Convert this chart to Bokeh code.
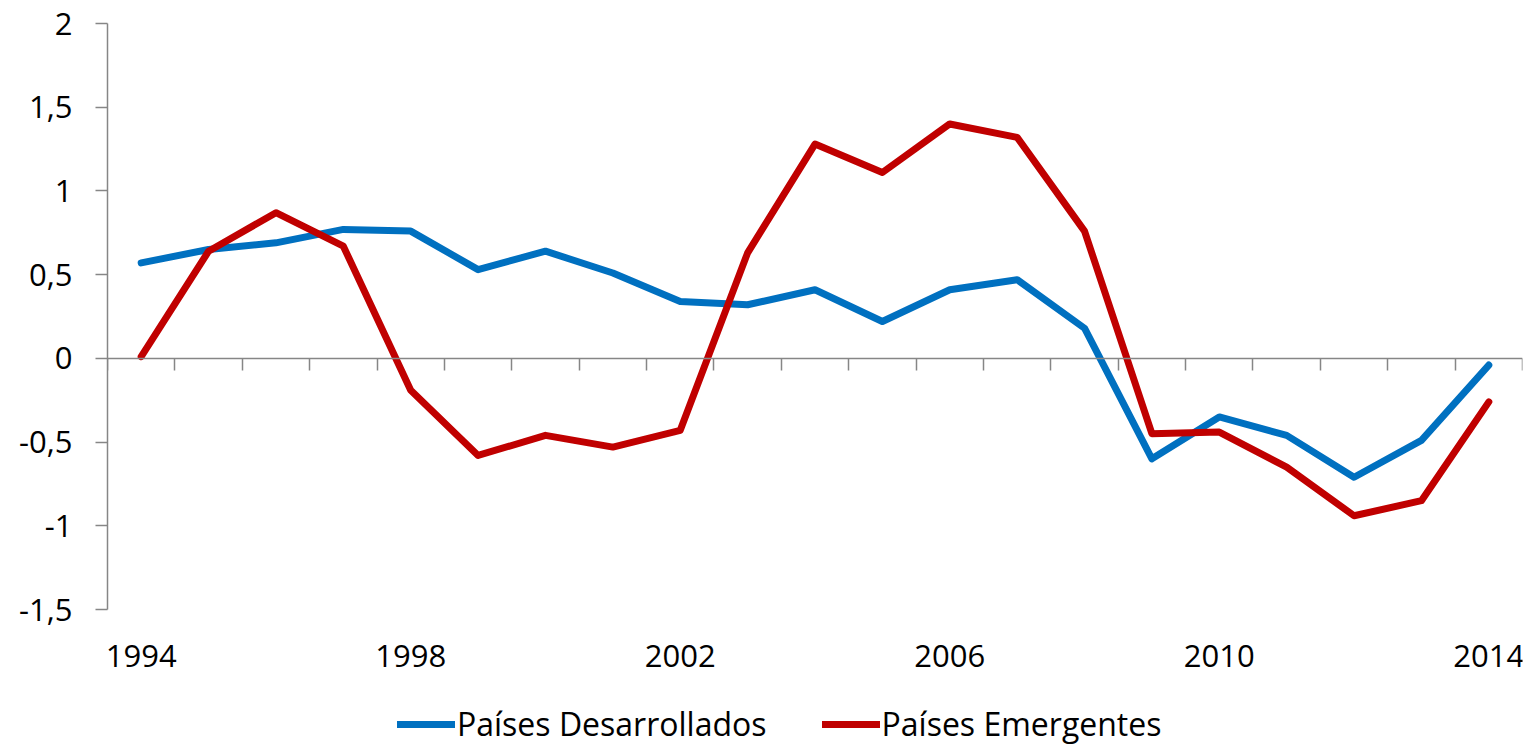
from bokeh.plotting import figure
from bokeh.models import (ColumnDataSource, FixedTicker, LinearAxis, Legend, LegendItem,
                          CustomJSTickFormatter, Range1d)
from bokeh.embed import file_html
from bokeh.resources import INLINE

years = list(range(1994, 2015))
desarrollados = [0.57, 0.65, 0.69, 0.77, 0.76, 0.53, 0.64, 0.51, 0.34, 0.32, 0.41,
                 0.22, 0.41, 0.47, 0.18, -0.60, -0.35, -0.46, -0.71, -0.49, -0.04]
emergentes = [0.01, 0.64, 0.87, 0.67, -0.19, -0.58, -0.46, -0.53, -0.43, 0.63, 1.28,
              1.11, 1.40, 1.32, 0.76, -0.45, -0.44, -0.65, -0.94, -0.85, -0.26]
x_labels = [1994, 1998, 2002, 2006, 2010, 2014]
y_ticks = [-1.5, -1, -0.5, 0, 0.5, 1, 1.5, 2]
series_names = ["Países Desarrollados", "Países Emergentes"]
colors = ["#0070C0", "#C00000"]

FONT = "Open Sans"
FS = "31px"
GRAY = "#868686"

H, TOP = 745, 23
AXIS_PX = 586                       # pixel height of the -1.5 .. 2 axis span
px_per_unit = AXIS_PX / (y_ticks[-1] - y_ticks[0])
y_lo = y_ticks[0] - (H - TOP - AXIS_PX) / px_per_unit   # room below for labels + legend

src = ColumnDataSource(dict(x=years, d=desarrollados, e=emergentes))

p = figure(width=1530, height=H, output_backend="svg", toolbar_location=None,
           x_range=Range1d(years[0] - 0.5, years[-1] + 0.5),
           y_range=Range1d(y_lo, y_ticks[-1]),
           x_axis_location=None,
           min_border_left=107, min_border_right=8, min_border_top=TOP, min_border_bottom=0)
p.outline_line_color = None
p.xgrid.visible = False
p.ygrid.visible = False

r1 = p.line("x", "d", source=src, line_color=colors[0], line_width=7,
            line_join="round", line_cap="round")
r2 = p.line("x", "e", source=src, line_color=colors[1], line_width=7,
            line_join="round", line_cap="round")

# y axis
ya = p.yaxis[0]
ya.bounds = (y_ticks[0], y_ticks[-1])
ya.ticker = FixedTicker(ticks=y_ticks)
ya.formatter = CustomJSTickFormatter(code="return String(tick).replace('.', ',');")
ya.axis_line_color = GRAY
ya.axis_line_width = 1.5
ya.major_tick_line_color = GRAY
ya.major_tick_line_width = 1.5
ya.major_tick_out = 12
ya.major_tick_in = 0
ya.minor_tick_line_color = None
ya.major_label_standoff = 23
ya.major_label_text_font = FONT
ya.major_label_text_font_size = FS
ya.major_label_text_color = "black"

# x labels axis, sitting under the -1.5 level
xa = LinearAxis(fixed_location=y_ticks[0], ticker=FixedTicker(ticks=x_labels))
xa.formatter = CustomJSTickFormatter(code="return String(tick);")
xa.axis_line_color = None
xa.major_tick_line_color = None
xa.minor_tick_line_color = None
xa.major_label_standoff = 29
xa.major_label_text_font = FONT
xa.major_label_text_font_size = FS
xa.major_label_text_color = "black"
p.add_layout(xa, "below")

# category axis at y = 0 with boundary ticks
bounds = [y - 0.5 for y in years] + [years[-1] + 0.5]
za = LinearAxis(fixed_location=0, ticker=FixedTicker(ticks=bounds))
za.axis_line_color = GRAY
za.axis_line_width = 1.5
za.major_tick_line_color = GRAY
za.major_tick_line_width = 1.5
za.major_tick_out = 12
za.major_tick_in = 0
za.minor_tick_line_color = None
za.major_label_text_font_size = "1px"
za.major_label_text_color = None
za.major_label_standoff = 0
p.add_layout(za, "below")

legend = Legend(items=[LegendItem(label=series_names[0], renderers=[r1]),
                       LegendItem(label=series_names[1], renderers=[r2])],
                location=(290, 0), orientation="horizontal")
legend.label_text_font = FONT
legend.label_text_font_size = "32px"
legend.label_text_color = "black"
legend.label_height = 20
legend.glyph_width = 58
legend.glyph_height = 20
legend.label_standoff = 2
legend.spacing = 55
legend.padding = 0
legend.margin = 0
legend.border_line_color = None
legend.background_fill_alpha = 0
p.add_layout(legend, "center")

open("out.html", "w").write(file_html(p, INLINE))
